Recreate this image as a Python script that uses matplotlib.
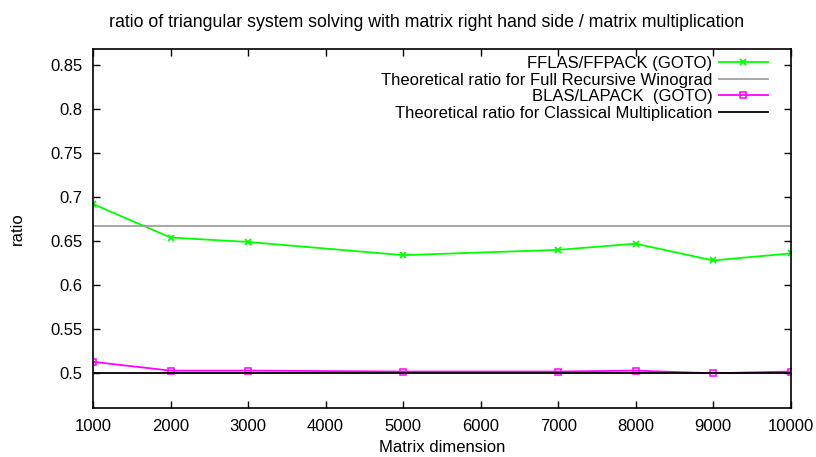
import numpy as np
import matplotlib
matplotlib.use("Agg")
import matplotlib.pyplot as plt

plt.rcParams['font.family'] = ['Liberation Sans', 'DejaVu Sans']

# matrix sizes
dims = [1000, 2000, 3000, 5000, 7000, 8000, 9000, 10000]
# measured ratios
fflas = [0.692, 0.654, 0.649, 0.634, 0.640, 0.647, 0.628, 0.636]
blas = [0.513, 0.503, 0.503, 0.502, 0.502, 0.503, 0.500, 0.502]
# theoretical values
winograd_ratio = 2.0 / 3.0
classical_ratio = 0.5

xticks = [1000, 2000, 3000, 4000, 5000, 6000, 7000, 8000, 9000, 10000]
yticks = [0.5, 0.55, 0.6, 0.65, 0.7, 0.75, 0.8, 0.85]

fig = plt.figure(figsize=(8.16, 4.57), dpi=100)
ax = fig.add_axes([0.114, 0.107, 0.855, 0.786])

ax.plot(dims, fflas, color='#00ff00', lw=1.3, marker='x', ms=5, mew=1.3,
        label='FFLAS/FFPACK (GOTO)')
ax.axhline(winograd_ratio, color='#a0a0a0', lw=1.3,
           label='Theoretical ratio for Full Recursive Winograd')
ax.plot(dims, blas, color='#ff00ff', lw=1.3, marker='s', ms=5, mew=1.1,
        mfc='none', label='BLAS/LAPACK  (GOTO)')
ax.axhline(classical_ratio, color='black', lw=1.3,
           label='Theoretical ratio for Classical Multiplication')

ax.set_xlim(1000, 10000)
ax.set_ylim(0.4605, 0.868)
ax.set_xticks(xticks)
ax.set_yticks(yticks)
ax.set_yticklabels([f'{v:g}' for v in yticks])
ax.tick_params(direction='in', top=True, right=True, labelsize=12, length=5, width=1, pad=7.5)
for s in ax.spines.values():
    s.set_linewidth(1.2)

ax.set_xlabel('Matrix dimension', fontsize=12, labelpad=5)
ax.set_ylabel('ratio', fontsize=12, labelpad=18)
ax.set_title('ratio of triangular system solving with matrix right hand side / matrix multiplication',
             fontsize=12.8, pad=16, x=0.478)

ax.legend(loc='upper right', bbox_to_anchor=(0.974, 0.994), frameon=False,
          markerfirst=False, fontsize=12, handlelength=2.9, labelspacing=0.09,
          borderaxespad=0, borderpad=0.3, handletextpad=0.4)

fig.savefig('out.png', dpi=100)
